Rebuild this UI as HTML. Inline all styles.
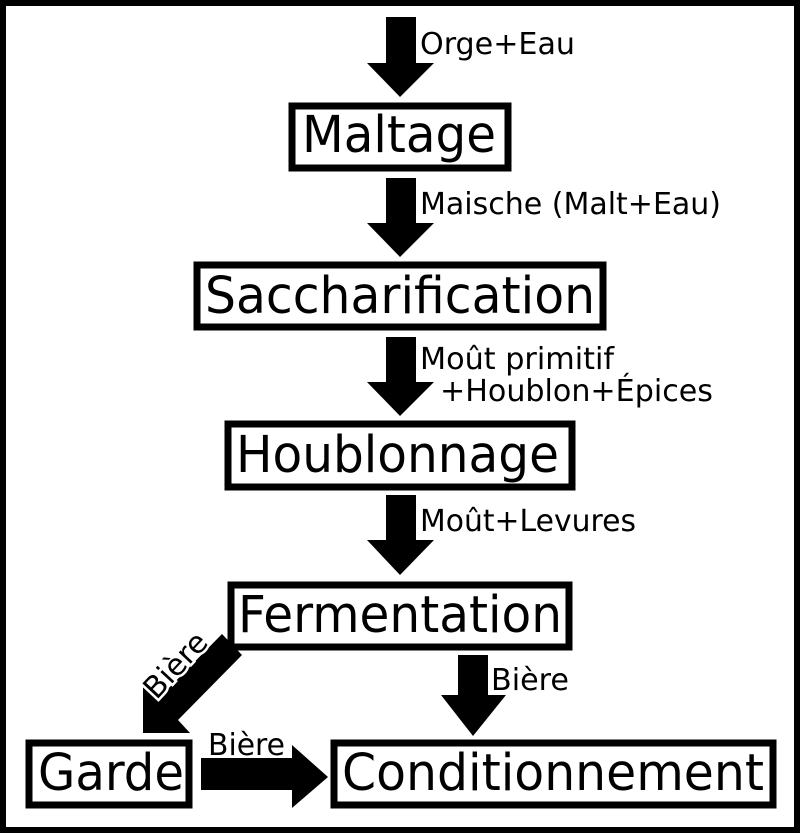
<!DOCTYPE html>
<html><head><meta charset="utf-8"><style>html,body{margin:0;padding:0;background:#fff}svg{display:block}</style></head>
<body>
<svg width="800" height="833" viewBox="0 0 800 833" xmlns="http://www.w3.org/2000/svg" font-family="'DejaVu Sans','Liberation Sans',sans-serif">
<rect x="3" y="3" width="794" height="827" fill="#fff" stroke="#000" stroke-width="6"/>
<g fill="#000">
<polygon points="386,17 416,17 416,63 434,63 400,97 367,63 386,63"/>
<polygon points="386,178 416,178 416,223 434,223 400,257 367,223 386,223"/>
<polygon points="386,337 416,337 416,382 434,382 400,416 367,382 386,382"/>
<polygon points="386,495 416,495 416,540 434,540 400,575 367,540 386,540"/>
<polygon points="458,655 488,655 488,695 506,695 473,736 441,695 458,695"/>
<polygon points="201,758 292,758 292,745 328,777 292,808 292,790 201,790"/>
<polygon points="143,733 143,687 157,700 222,634 242,655 178,720 190,733"/>
</g>
<g fill="#fff" stroke="#000" stroke-width="7">
<rect x="292" y="106" width="216" height="62"/>
<rect x="197" y="265" width="406" height="62"/>
<rect x="228" y="424" width="344" height="63"/>
<rect x="231" y="585" width="338" height="62"/>
<rect x="29" y="743" width="160" height="62"/>
<rect x="334" y="743" width="439" height="62"/>
</g>
<g font-size="51" fill="#000">
<text x="302" y="152" textLength="194" lengthAdjust="spacingAndGlyphs">Maltage</text>
<text x="205" y="313" textLength="390" lengthAdjust="spacingAndGlyphs">Saccharification</text>
<text x="236" y="472" textLength="323" lengthAdjust="spacingAndGlyphs">Houblonnage</text>
<text x="238" y="632" textLength="324" lengthAdjust="spacingAndGlyphs">Fermentation</text>
<text x="38" y="790" textLength="146" lengthAdjust="spacingAndGlyphs">Garde</text>
<text x="342" y="790" textLength="422" lengthAdjust="spacingAndGlyphs">Conditionnement</text>
</g>
<g font-size="30" fill="#000">
<text x="420" y="54" textLength="155" lengthAdjust="spacingAndGlyphs">Orge+Eau</text>
<text x="420" y="214" textLength="301" lengthAdjust="spacingAndGlyphs">Maische (Malt+Eau)</text>
<text x="420" y="369" textLength="194" lengthAdjust="spacingAndGlyphs">Moût primitif</text>
<text x="440" y="401" textLength="273" lengthAdjust="spacingAndGlyphs">+Houblon+Épices</text>
<text x="420" y="531" textLength="216" lengthAdjust="spacingAndGlyphs">Moût+Levures</text>
<text x="491" y="690" textLength="78" lengthAdjust="spacingAndGlyphs">Bière</text>
<text x="208" y="755" textLength="77" lengthAdjust="spacingAndGlyphs">Bière</text>
<text x="0" y="0" text-anchor="middle" transform="translate(183,672) rotate(-47)" stroke="#fff" stroke-width="5" paint-order="stroke" textLength="78" lengthAdjust="spacingAndGlyphs">Bière</text>
</g>
</svg>
</body></html>
